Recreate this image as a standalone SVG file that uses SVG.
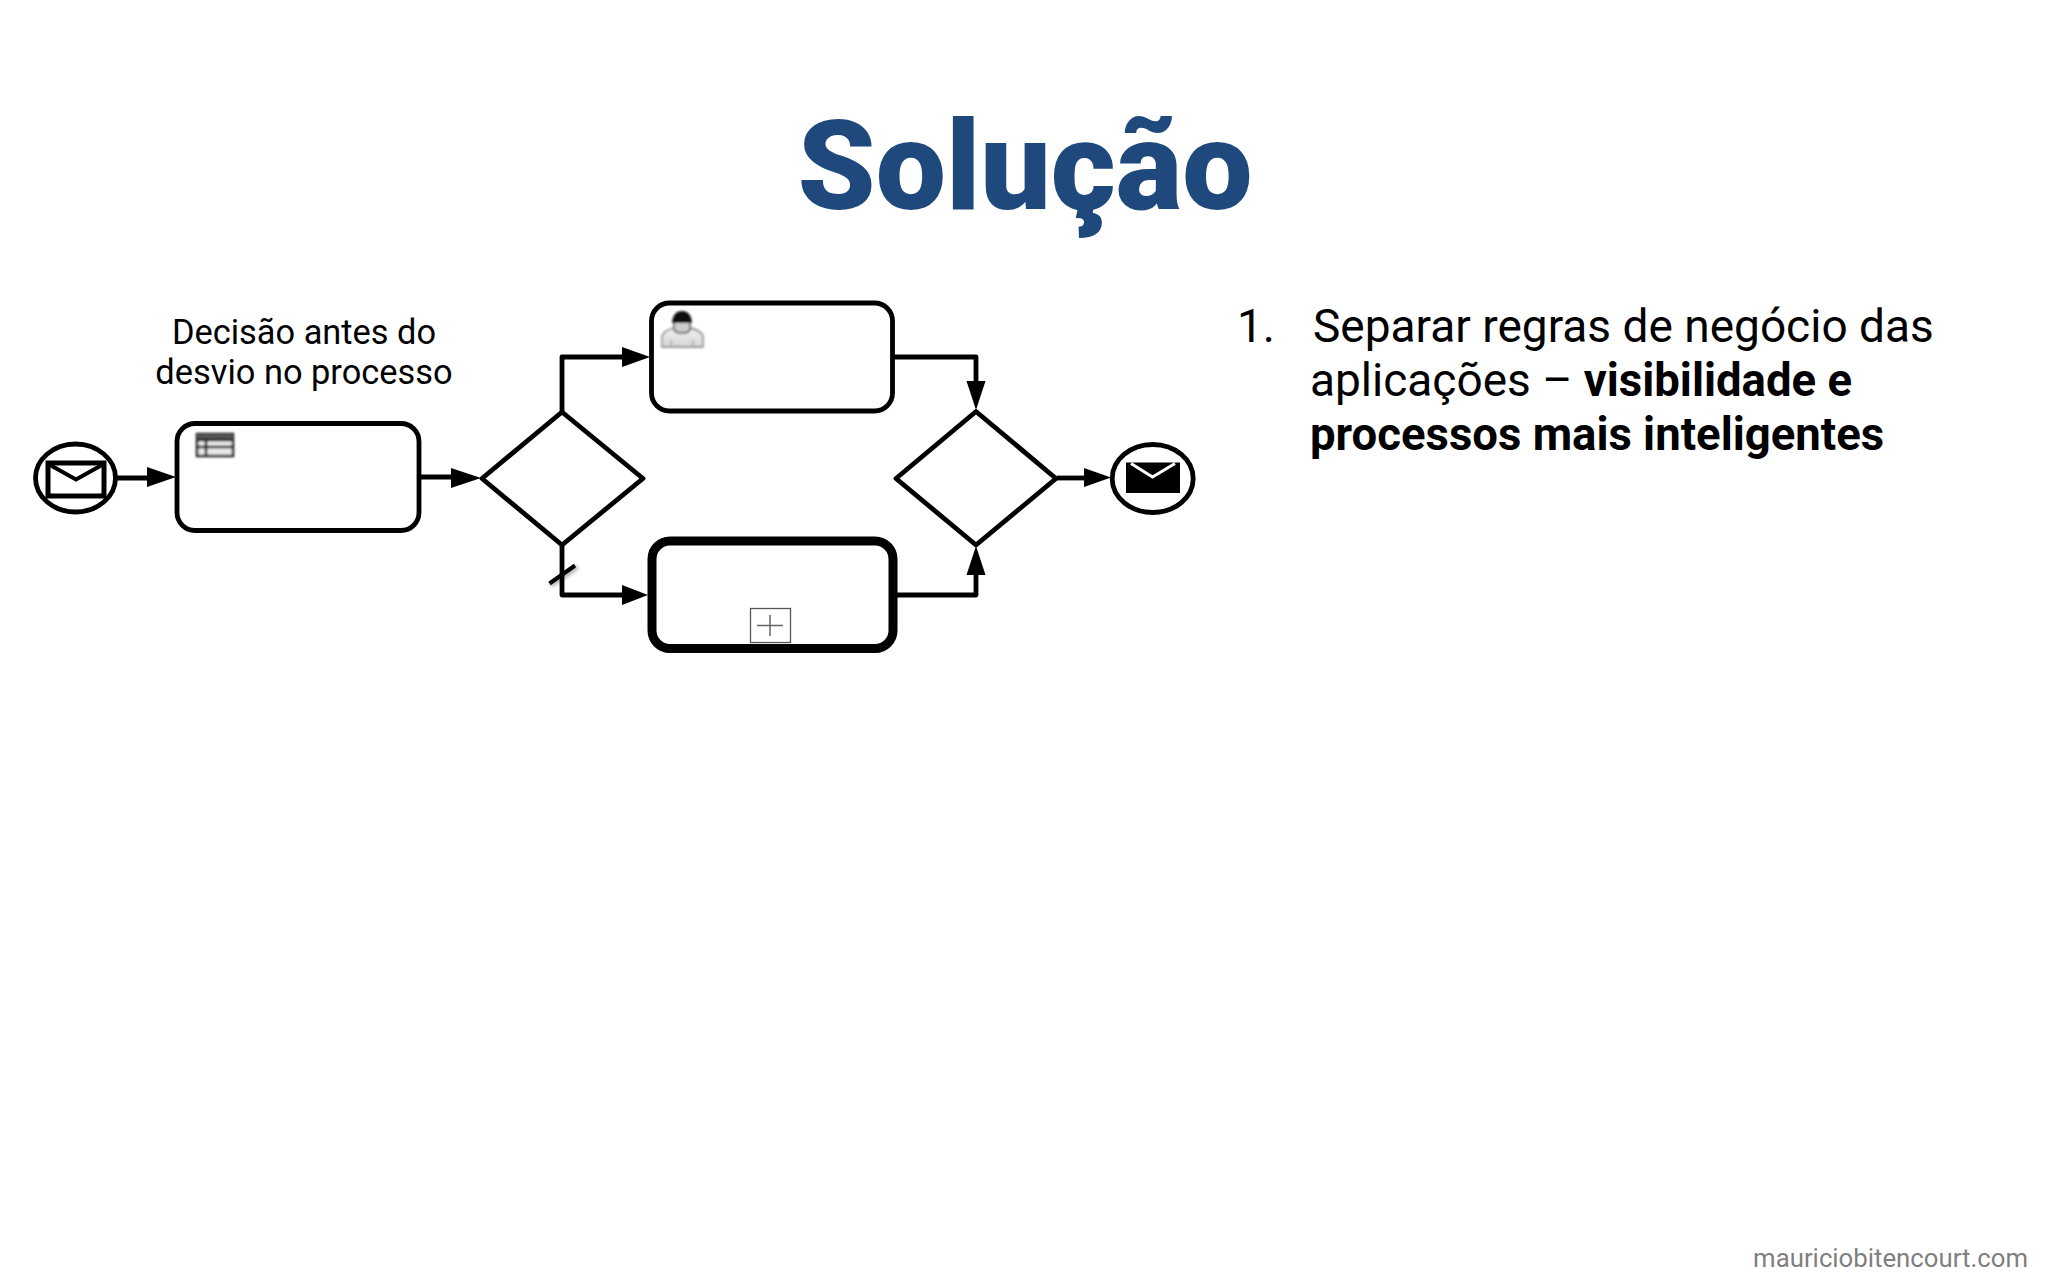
<svg xmlns="http://www.w3.org/2000/svg" width="2048" height="1280" viewBox="0 0 2048 1280">
<style>
text{font-family:Roboto,"Liberation Sans",sans-serif;fill:#000}
.shape{fill:#fff;stroke:#000;stroke-width:4.8}
.flow{fill:none;stroke:#000;stroke-width:4.8;stroke-linejoin:round}
.head{fill:#000;stroke:none}
</style>
<defs>
<filter id="soft" x="-20%" y="-20%" width="140%" height="140%"><feGaussianBlur stdDeviation="0.9"/></filter>
<filter id="shadow" x="-30%" y="-30%" width="160%" height="160%"><feGaussianBlur stdDeviation="2"/></filter>
<linearGradient id="body" x1="0" y1="0" x2="0" y2="1"><stop offset="0" stop-color="#f6f6f6"/><stop offset="1" stop-color="#d4d4d4"/></linearGradient>
</defs>
<rect width="2048" height="1280" fill="#fff"/>
<text id="title" x="1025" y="209" text-anchor="middle" font-size="125" font-weight="900" style="fill:#1f497d">Solução</text>
<g id="note" font-size="34.400" text-anchor="middle">
<text x="304" y="344">Decisão antes do</text>
<text x="304" y="384">desvio no processo</text>
</g>
<g id="connectors">
<path class="flow" d="M117 478H152"/>
<path class="head" d="M147 467L176 477L147 487Z"/>
<path class="flow" d="M421 477H456"/>
<path class="head" d="M451 468L481 478L451 488Z"/>
<path class="flow" d="M562 411V357H626"/>
<path class="head" d="M622 347L650 357L622 367Z"/>
<path d="M551 585L577 567" fill="none" stroke="#777" stroke-width="3" filter="url(#shadow)"/>
<path class="flow" d="M562 546V595H626"/>
<path class="head" d="M622 585L648 595L622 605Z"/>
<path d="M549.500 583.500L575 565.500" fill="none" stroke="#000" stroke-width="4"/>
<path class="flow" d="M893 357H976V385"/>
<path class="head" d="M966.500 381L976 410L985.500 381Z"/>
<path class="flow" d="M897 595H976V571"/>
<path class="head" d="M966.500 575L976 546L985.500 575Z"/>
<path class="flow" d="M1057 478H1088"/>
<path class="head" d="M1084 468L1111 477.500L1084 487Z"/>
</g>
<g id="start-event">
<ellipse class="shape" cx="75.500" cy="478" rx="40" ry="34"/>
<rect x="48" y="463" width="56" height="33" fill="#fff" stroke="#000" stroke-width="5"/>
<path d="M50 465L76 479.500L102 465" fill="none" stroke="#000" stroke-width="4"/>
</g>
<g id="decision-task">
<rect class="shape" x="177" y="423.500" width="242" height="107" rx="18" ry="18"/>
<g filter="url(#soft)">
<rect x="197" y="434" width="36" height="22" fill="#e8e8e8" stroke="#222" stroke-width="2.500"/>
<rect x="197" y="434" width="36" height="5" fill="#555"/>
<path d="M197 440H233M197 447H233M206 440V456" fill="none" stroke="#222" stroke-width="2.500"/>
</g>
</g>
<g id="split-gateway">
<path class="shape" d="M562 412L643 478.500L562 545L482 478.500Z" stroke-linejoin="round"/>
</g>
<g id="user-task">
<rect class="shape" x="651.500" y="303" width="241" height="108" rx="18" ry="18"/>
<g filter="url(#soft)">
<path d="M662 347V338Q662 331 674 328L676 325H688L690 328Q703 331 703 338V347Z" fill="url(#body)" stroke="#999" stroke-width="1.800"/>
<path d="M674 320H690V328Q690 333 682 333Q674 333 674 328Z" fill="#ccc" stroke="#777" stroke-width="2"/>
<path d="M672 323Q673 311 682 311Q691 311 692 323Z" fill="#111"/>
<path d="M671 347V340M693 347V340" stroke="#aaa" stroke-width="1.500"/>
</g>
</g>
<g id="sub-process">
<rect class="shape" style="stroke-width:9" x="652" y="541" width="241" height="107.500" rx="18" ry="18"/>
<rect x="750.500" y="608.500" width="40" height="34" fill="#fff" stroke="#555" stroke-width="1.300"/>
<path d="M757 625.500H783M770 615V636" fill="none" stroke="#666" stroke-width="1.500"/>
</g>
<g id="merge-gateway">
<path class="shape" d="M976 411.500L1056 478.500L976 545L896 478.500Z" stroke-linejoin="round"/>
</g>
<g id="end-event">
<ellipse class="shape" cx="1152.700" cy="478.500" rx="40.500" ry="34"/>
<rect x="1126" y="462.500" width="54" height="30.500" fill="#000"/>
<path d="M1131 463.500L1152.500 477L1175 463.500" fill="none" stroke="#fff" stroke-width="3"/>
</g>
<g id="list" font-size="46">
<text x="1237" y="342">1.</text>
<text x="1313" y="342">Separar regras de negócio das</text>
<text x="1310" y="396">aplicações – <tspan font-weight="700" font-size="45.500">visibilidade e</tspan></text>
<text x="1310" y="450" font-weight="700" font-size="45.500">processos mais inteligentes</text>
</g>
<text id="footer" x="2028" y="1267" text-anchor="end" font-size="25.750" style="fill:#7f7f7f">mauriciobitencourt.com</text>
</svg>
